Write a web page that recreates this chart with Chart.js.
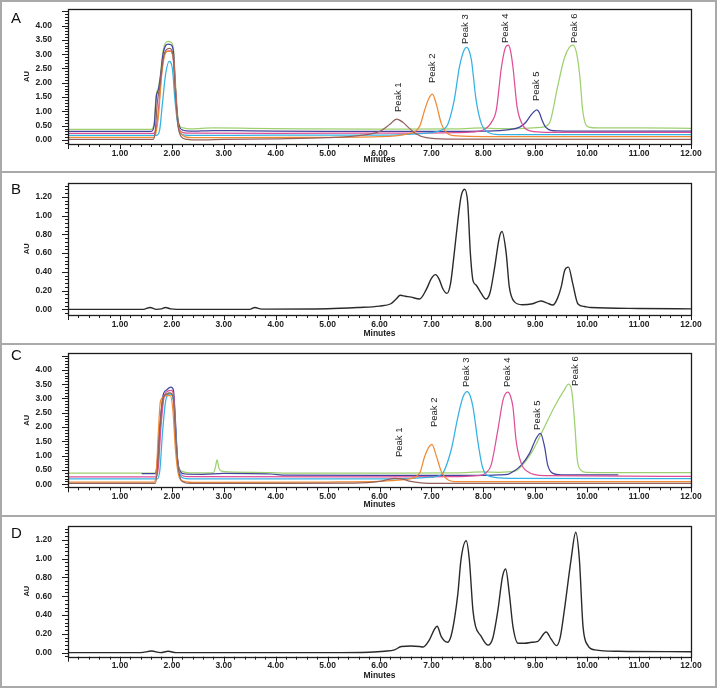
<!DOCTYPE html>
<html><head><meta charset="utf-8">
<script src="https://cdn.jsdelivr.net/npm/chart.js@4.4.0/dist/chart.umd.min.js"></script>
<style>
html,body{margin:0;padding:0;background:#fff;}
#fig{position:relative;width:717px;height:688px;overflow:hidden;background:#fff;}
canvas{position:absolute;left:0;}
.rule{position:absolute;background:#a9a9a9;}
.letter{position:absolute;left:11px;font:15px/15px "Liberation Sans",Arial,sans-serif;color:#111;}
</style></head><body>
<div id="fig">
<canvas id="cA" width="717" height="169" style="top:2px"></canvas>
<canvas id="cB" width="717" height="170" style="top:173px"></canvas>
<canvas id="cC" width="717" height="170" style="top:345px"></canvas>
<canvas id="cD" width="717" height="169" style="top:517px"></canvas>
<div class="rule" style="left:0;top:0;width:717px;height:2px"></div>
<div class="rule" style="left:0;top:171px;width:717px;height:2px"></div>
<div class="rule" style="left:0;top:343px;width:717px;height:2px"></div>
<div class="rule" style="left:0;top:515px;width:717px;height:2px"></div>
<div class="rule" style="left:0;top:686px;width:717px;height:2px"></div>
<div class="rule" style="left:0;top:0;width:2px;height:688px"></div>
<div class="rule" style="left:715px;top:0;width:2px;height:688px"></div>
<div class="letter" style="top:10px">A</div>
<div class="letter" style="top:181px">B</div>
<div class="letter" style="top:347px">C</div>
<div class="letter" style="top:525px">D</div>
</div>
<script>
// ---------- tick labels ----------
const xTickLabels = ['1.00','2.00','3.00','4.00','5.00','6.00','7.00','8.00','9.00','10.00','11.00','12.00'];
const yTickLabelsAC = ['0.00','0.50','1.00','1.50','2.00','2.50','3.00','3.50','4.00'];
const yTickLabelsBD = ['0.00','0.20','0.40','0.60','0.80','1.00','1.20'];
const peakNames = ['Peak 1','Peak 2','Peak 3','Peak 4','Peak 5','Peak 6'];

// ---------- Panel A (overlay of standards) ----------
const tGreenA = [0,1.60,1.66,1.70,1.74,1.78,1.83,1.88,1.93,1.98,2.03,2.07,2.11,2.15,2.22,2.35,2.8,3.5,4.5,6.0,7.5,8.0,8.3,8.8,9.1,9.27,9.43,9.56,9.66,9.73,9.80,9.86,9.91,9.96,10.02,10.2,11.0,12];
const vGreenA = [0.37,0.37,0.6,1.6,1.8,2.3,3.1,3.4,3.45,3.42,3.2,2.0,0.9,0.5,0.42,0.39,0.42,0.41,0.39,0.38,0.39,0.42,0.40,0.41,0.44,0.58,1.86,2.86,3.25,3.32,3.0,2.2,1.1,0.6,0.46,0.42,0.42,0.41];
const tNavyA = [0,1.60,1.66,1.70,1.74,1.78,1.83,1.88,1.93,1.98,2.03,2.07,2.11,2.15,2.22,2.35,2.8,3.5,5.0,7.0,8.0,8.5,8.7,8.82,8.92,8.98,9.03,9.08,9.13,9.2,9.3,9.45,10.0,12];
const vNavyA = [0.30,0.30,0.5,1.5,1.75,2.2,3.0,3.3,3.35,3.33,3.1,1.8,0.8,0.45,0.34,0.31,0.33,0.32,0.30,0.30,0.31,0.36,0.45,0.62,0.88,1.0,1.05,0.95,0.7,0.45,0.34,0.32,0.31,0.31];
const tPinkA = [0,1.64,1.70,1.75,1.80,1.85,1.90,1.96,2.02,2.07,2.11,2.15,2.22,2.35,4.0,6.0,7.5,7.9,8.05,8.15,8.25,8.35,8.43,8.48,8.52,8.57,8.65,8.76,8.92,9.2,12];
const vPinkA = [0.23,0.23,0.4,1.2,2.3,2.95,3.1,3.12,2.95,1.8,0.7,0.35,0.26,0.24,0.23,0.24,0.26,0.30,0.40,0.60,1.05,2.56,3.25,3.32,3.15,2.56,1.16,0.52,0.31,0.27,0.27];
const tCyanA = [0,1.70,1.76,1.82,1.88,1.95,2.01,2.06,2.11,2.16,2.25,2.4,4.0,6.0,6.5,7.0,7.2,7.31,7.44,7.54,7.63,7.68,7.72,7.77,7.86,7.96,8.09,8.3,12];
const vCyanA = [0.16,0.16,0.3,1.3,2.3,2.75,2.5,1.4,0.6,0.25,0.17,0.16,0.17,0.17,0.20,0.26,0.35,0.52,1.4,2.56,3.15,3.24,3.15,2.8,1.4,0.58,0.27,0.19,0.19];
const tOrangeA = [0,1.65,1.70,1.75,1.80,1.86,1.92,1.98,2.04,2.08,2.12,2.17,2.25,2.4,3.0,4.5,6.0,6.5,6.77,6.87,6.95,7.02,7.09,7.19,7.31,7.5,8.0,12];
const vOrangeA = [0.09,0.09,0.3,1.0,2.2,2.95,3.1,3.1,2.7,1.4,0.55,0.25,0.12,0.08,0.08,0.09,0.12,0.20,0.47,1.05,1.45,1.60,1.28,0.58,0.23,0.14,0.12,0.12];
const tBrownA = [0,1.64,1.68,1.72,1.77,1.83,1.89,1.96,2.02,2.07,2.12,2.18,2.3,2.5,3.0,4.0,5.0,5.6,6.0,6.2,6.33,6.45,6.55,6.7,6.9,7.3,12];
const vBrownA = [0.02,0.02,0.3,1.3,1.9,2.8,3.15,3.2,3.0,1.6,0.5,0.12,0.02,0.0,0.02,0.04,0.08,0.15,0.30,0.55,0.73,0.62,0.45,0.22,0.08,0.03,0.02];
const peakTimeA = [6.37,7.01,7.66,8.43,9.03,9.76];
const peakLabelValA = [0.98,1.99,3.36,3.39,1.36,3.39];

// ---------- Panel B (sample chromatogram) ----------
const tB = [0,1.45,1.58,1.7,1.8,1.88,1.98,2.1,3.5,3.6,3.7,3.8,5.0,5.58,6.0,6.22,6.32,6.40,6.5,6.61,6.77,6.9,7.0,7.08,7.15,7.22,7.30,7.37,7.44,7.51,7.57,7.64,7.70,7.75,7.80,7.86,7.96,8.05,8.13,8.21,8.31,8.36,8.44,8.50,8.60,8.75,8.95,9.11,9.22,9.34,9.43,9.50,9.57,9.64,9.72,9.82,9.95,10.07,11.0,12];
const vB = [0,0,0.02,0.0,0.005,0.02,0.005,0.0,0.0,0.02,0.005,0.003,0.007,0.02,0.035,0.06,0.11,0.15,0.14,0.13,0.11,0.21,0.33,0.37,0.32,0.22,0.17,0.28,0.60,0.95,1.2,1.28,1.13,0.6,0.31,0.26,0.17,0.11,0.18,0.42,0.77,0.83,0.60,0.24,0.08,0.05,0.06,0.09,0.07,0.046,0.12,0.24,0.42,0.45,0.28,0.06,0.03,0.02,0.01,0.005];

// ---------- Panel C (overlay of standards) ----------
const tGreenC = [0,1.70,1.74,1.78,1.83,1.88,1.94,2.0,2.05,2.09,2.13,2.2,2.35,2.8,2.84,2.87,2.91,2.96,3.1,3.9,4.2,6.0,7.5,8.0,8.3,8.6,8.92,9.15,9.37,9.56,9.64,9.70,9.76,9.81,9.89,9.98,10.5,12];
const vGreenC = [0.39,0.39,0.7,2.2,2.95,3.15,3.2,3.15,2.6,1.2,0.6,0.45,0.40,0.40,0.6,0.85,0.55,0.46,0.43,0.41,0.39,0.39,0.40,0.43,0.42,0.46,1.08,1.9,2.71,3.3,3.5,3.3,2.13,0.85,0.48,0.42,0.41,0.41];
const tNavyC = [1.42,1.68,1.72,1.77,1.83,1.90,1.98,2.03,2.07,2.11,2.16,2.25,2.6,3.0,3.9,4.2,6.0,8.0,8.3,8.47,8.6,8.73,8.89,9.02,9.10,9.18,9.24,9.34,9.5,10.0,10.6];
const vNavyC = [0.37,0.37,0.8,2.0,3.1,3.3,3.4,3.3,2.2,0.9,0.45,0.36,0.35,0.38,0.36,0.32,0.31,0.31,0.33,0.35,0.47,0.67,1.08,1.61,1.78,1.31,0.67,0.38,0.33,0.33,0.33];
const tPinkC = [0,1.70,1.74,1.79,1.85,1.92,1.99,2.04,2.08,2.12,2.18,2.3,6.0,7.5,7.9,8.05,8.15,8.28,8.38,8.47,8.52,8.57,8.63,8.73,8.86,9.18,12];
const vPinkC = [0.26,0.26,0.6,2.0,3.05,3.25,3.28,3.0,1.6,0.65,0.33,0.27,0.26,0.27,0.30,0.40,0.67,1.9,2.95,3.22,3.1,2.71,1.55,0.73,0.44,0.30,0.28];
const tCyanC = [0,1.72,1.77,1.82,1.88,1.95,2.01,2.06,2.10,2.15,2.22,2.35,6.0,6.6,7.0,7.19,7.38,7.51,7.61,7.69,7.74,7.80,7.90,7.99,8.15,8.5,12];
const vCyanC = [0.19,0.19,0.5,1.8,2.9,3.15,3.1,2.3,1.0,0.4,0.22,0.19,0.19,0.21,0.25,0.33,1.2,2.36,3.06,3.24,3.12,2.71,1.43,0.56,0.27,0.21,0.20];
const tOrangeC = [0,1.66,1.70,1.74,1.78,1.84,1.90,1.97,2.02,2.07,2.12,2.2,2.4,5.0,6.0,6.3,6.5,6.77,6.87,6.95,7.01,7.09,7.19,7.31,7.5,12];
const vOrangeC = [0.08,0.08,0.4,1.8,2.9,3.05,3.1,3.1,2.6,1.2,0.4,0.12,0.07,0.08,0.10,0.14,0.17,0.38,0.97,1.3,1.40,1.02,0.45,0.17,0.09,0.09];
const tBrownC = [0,1.68,1.72,1.77,1.83,1.90,1.97,2.03,2.08,2.13,2.2,2.35,4.0,5.5,6.0,6.15,6.29,6.45,6.6,6.8,7.1,12];
const vBrownC = [0.03,0.03,0.5,2.0,3.0,3.15,3.2,3.0,1.5,0.5,0.10,0.03,0.03,0.04,0.10,0.16,0.21,0.18,0.10,0.05,0.03,0.03];
const peakTimeC = [6.39,7.05,7.67,8.46,9.05,9.77];
const peakLabelValC = [0.95,2.0,3.40,3.40,1.90,3.44];

// ---------- Panel D (sample chromatogram) ----------
const tD = [0,1.4,1.61,1.78,1.93,2.08,2.3,5.0,5.8,6.1,6.29,6.42,6.6,6.77,6.84,6.96,7.06,7.11,7.19,7.31,7.38,7.45,7.51,7.57,7.67,7.73,7.80,7.85,7.95,8.09,8.18,8.28,8.37,8.43,8.50,8.57,8.67,8.8,8.93,9.05,9.21,9.30,9.41,9.48,9.56,9.69,9.78,9.85,9.92,10.01,10.15,10.6,12];
const vD = [0,0,0.017,0.0,0.015,0.0,0.0,0.0,0.005,0.015,0.03,0.065,0.07,0.065,0.06,0.135,0.25,0.28,0.17,0.11,0.18,0.38,0.63,0.99,1.19,0.99,0.45,0.28,0.18,0.08,0.15,0.45,0.81,0.89,0.63,0.28,0.10,0.10,0.11,0.12,0.22,0.15,0.075,0.16,0.45,0.99,1.28,0.99,0.28,0.08,0.03,0.015,0.01];

// ---------- styles ----------
const COL = {green:'#9fd070', navy:'#43449c', pink:'#de4f98', cyan:'#33b2e4', orange:'#f08b35', brown:'#94625c', black:'#2a2a2a'};
const FONT = '"Liberation Sans", Arial, Helvetica, sans-serif';

function pts(t, v){ return t.map((x,i)=>({x:x, y:v[i]})); }
function ds(t, v, c, w){ return {data:pts(t,v), borderColor:c, borderWidth:w||1.25, pointRadius:0, fill:false, cubicInterpolationMode:'monotone'}; }

const framePlugin = {
  id:'frameTicks',
  afterDatasetsDraw(chart){
    const {ctx, chartArea:a, scales:{x, y}} = chart;
    const o = chart.options.plugins.frameTicks;
    ctx.save();
    ctx.strokeStyle = '#1c1c1c';
    ctx.lineWidth = 1;
    ctx.beginPath();
    for (let i = 0; i <= 60; i++) {
      const px = Math.round(x.getPixelForValue(i*0.2)) + 0.5;
      ctx.moveTo(px, a.bottom); ctx.lineTo(px, a.bottom + (i % 5 === 0 ? 5 : 3));
    }
    const n = Math.floor((y.max - o.minorStart) / o.minor + 1e-6);
    for (let i = 0; i <= n; i++) {
      const v = o.minorStart + i*o.minor;
      if (v < y.min) continue;
      const py = Math.round(y.getPixelForValue(v)) + 0.5;
      const maj = Math.abs(v/o.major - Math.round(v/o.major)) < 1e-6;
      ctx.moveTo(a.left, py); ctx.lineTo(a.left - (maj ? 6 : 3), py);
    }
    ctx.stroke();
    ctx.lineWidth = 1.3;
    ctx.strokeRect(Math.round(a.left)+0.5, Math.round(a.top)+0.5, Math.round(a.right-a.left), Math.round(a.bottom-a.top));
    ctx.restore();
  }
};

const peakPlugin = {
  id:'peakLabels',
  afterDatasetsDraw(chart){
    const o = chart.options.plugins.peakLabels;
    if (!o || !o.times) return;
    const {ctx, scales:{x, y}} = chart;
    ctx.save();
    ctx.font = '9.5px ' + FONT;
    ctx.fillStyle = '#222';
    ctx.textAlign = 'left';
    ctx.textBaseline = 'middle';
    o.times.forEach((t, i) => {
      ctx.save();
      ctx.translate(x.getPixelForValue(t), y.getPixelForValue(o.values[i]));
      ctx.rotate(-Math.PI/2);
      ctx.fillText(o.names[i], 0, 0);
      ctx.restore();
    });
    ctx.restore();
  }
};

function makeChart(id, datasets, cfg){
  const yVals = cfg.yLabels.map(parseFloat);
  const xVals = xTickLabels.map(parseFloat);
  return new Chart(document.getElementById(id), {
    type:'line',
    data:{datasets:datasets},
    options:{
      responsive:false, animation:false, events:[],
      layout:{padding:{top:cfg.top, right:26, left:0, bottom:0}},
      plugins:{legend:{display:false}, tooltip:{enabled:false},
        peakLabels:cfg.peaks||{}, frameTicks:{minor:cfg.minor, major:cfg.major, minorStart:cfg.minorStart}},
      scales:{
        x:{type:'linear', min:0, max:12,
          afterBuildTicks:s=>{ s.ticks = xVals.map(v=>({value:v})); },
          afterFit:s=>{ s.height = cfg.xh; },
          ticks:{callback:(v,i)=>xTickLabels[i], autoSkip:false, maxRotation:0, padding:4.3, color:'#222', font:{family:FONT, size:8.5, weight:'bold'}},
          grid:{display:false, drawTicks:false}, border:{display:false},
          title:{display:true, text:'Minutes', color:'#222', font:{family:FONT, size:8.5, weight:'bold'}, padding:{top:0, bottom:cfg.titlePad}}
        },
        y:{type:'linear', min:cfg.ymin, max:cfg.ymax,
          afterBuildTicks:s=>{ s.ticks = yVals.map(v=>({value:v})); },
          afterFit:s=>{ s.width = 68; },
          ticks:{callback:(v,i)=>cfg.yLabels[i], autoSkip:false, padding:1, color:'#222', font:{family:FONT, size:8.5, weight:'bold'}},
          grid:{display:true, drawOnChartArea:false, drawTicks:true, tickLength:15, color:'rgba(0,0,0,0)', tickColor:'rgba(0,0,0,0)'},
          border:{display:false},
          title:{display:true, text:'AU', color:'#222', font:{family:FONT, size:7.5, weight:'bold'}, padding:{top:22.5, bottom:0}}
        }
      }
    },
    plugins:[framePlugin, peakPlugin]
  });
}

makeChart('cA', [
  ds(tBrownA, vBrownA, COL.brown), ds(tOrangeA, vOrangeA, COL.orange), ds(tCyanA, vCyanA, COL.cyan),
  ds(tPinkA, vPinkA, COL.pink), ds(tNavyA, vNavyA, COL.navy), ds(tGreenA, vGreenA, COL.green)
], {top:7, xh:27, titlePad:6.0, ymin:-0.14, ymax:4.58, yLabels:yTickLabelsAC, minor:0.1, major:0.5, minorStart:-0.1,
    peaks:{times:peakTimeA, values:peakLabelValA, names:peakNames}});

makeChart('cB', [ ds(tB, vB, COL.black, 1.4) ],
  {top:9.7, xh:28, titlePad:4.6, ymin:-0.06, ymax:1.35, yLabels:yTickLabelsBD, minor:0.04, major:0.2, minorStart:-0.04});

makeChart('cC', [
  ds(tBrownC, vBrownC, COL.brown), ds(tOrangeC, vOrangeC, COL.orange), ds(tCyanC, vCyanC, COL.cyan),
  ds(tPinkC, vPinkC, COL.pink), ds(tNavyC, vNavyC, COL.navy), ds(tGreenC, vGreenC, COL.green)
], {top:8.3, xh:27.7, titlePad:5.3, ymin:-0.105, ymax:4.58, yLabels:yTickLabelsAC, minor:0.1, major:0.5, minorStart:-0.1,
    peaks:{times:peakTimeC, values:peakLabelValC, names:peakNames}});

makeChart('cD', [ ds(tD, vD, COL.black, 1.4) ],
  {top:8.7, xh:29.3, titlePad:5.6, ymin:-0.043, ymax:1.35, yLabels:yTickLabelsBD, minor:0.04, major:0.2, minorStart:-0.04});
</script>
</body></html>
